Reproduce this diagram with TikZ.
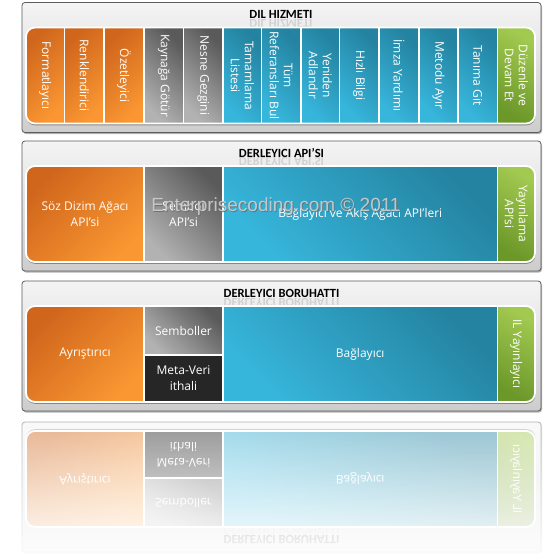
\documentclass[tikz,border=0pt]{standalone}
\usepackage{fontspec}
\setmainfont{Open Sans}
\newfontfamily\titlefont{Carlito}
\newfontfamily\wmfont{Liberation Sans}
\usetikzlibrary{fadings,shadows}
\definecolor{orA}{HTML}{D0661C}
\definecolor{orB}{HTML}{FA9732}
\definecolor{grA}{HTML}{5A5A5A}
\definecolor{grB}{HTML}{B2B2B2}
\definecolor{blA}{HTML}{2483A0}
\definecolor{blB}{HTML}{37B6DC}
\definecolor{gnA}{HTML}{A2C950}
\definecolor{gnB}{HTML}{6C982A}
\definecolor{mdark}{HTML}{262626}
\definecolor{panA}{HTML}{F4F4F4}
\definecolor{panB}{HTML}{CDCDCD}
\definecolor{panLine}{HTML}{5C5C5C}
\definecolor{wmLight}{HTML}{CFCFCF}
\definecolor{wmDark}{HTML}{6A6A6A}
\tikzfading[name=reflfade, top color=transparent!50, bottom color=transparent!4]
\tikzset{
  panel/.style={draw=panLine, line width=0.8pt, rounded corners=3pt, top color=panA, bottom color=panB,
    minimum width=519pt, minimum height=130pt, inner sep=0pt,
    drop shadow={shadow xshift=1pt, shadow yshift=-1.5pt, opacity=0.3, fill=black}},
  ptitle/.style={font=\titlefont\bfseries\fontsize{12.5}{14}\selectfont, text=black, inner sep=0pt},
  ptitleref/.style={ptitle, yscale=-1, opacity=0.12},
  cell/.style={draw=white, line width=1.8pt, inner sep=0pt},
  orcell/.style={cell, top color=orA, bottom color=orB, shading angle=45},
  grcell/.style={cell, top color=grA, bottom color=grB, shading angle=-45},
  blcell/.style={cell, top color=blA, bottom color=blB, shading angle=-45},
  gncell/.style={cell, top color=gnA, bottom color=gnB, shading angle=-30},
  dkcell/.style={cell, fill=mdark},
  lbl/.style={text=white, align=center, inner sep=0pt, font=\fontsize{12}{16}\selectfont},
  vlbl/.style={lbl, rotate=-90, font=\fontsize{12}{14}\selectfont},
  frame/.style={draw=white, line width=1.8pt, rounded corners=9pt},
  frameshadow/.style={fill=black, opacity=0.35, rounded corners=9pt},
}
\newcommand\pipelinepanel[1]{%
  \node[panel] (#1p) at (281.5,346) {};
  \node[ptitle] (#1t) at (281.5,293) {DERLEYICI BORUHATTI};
  \node[ptitleref] (#1tr) at (281.5,302.5) {DERLEYICI BORUHATTI};
  \fill[frameshadow] (26,307.5) rectangle (535.5,403.8);
  \begin{scope}
    \clip[rounded corners=9pt] (26,306) rectangle (535,402);
    \node[orcell, minimum width=118pt, minimum height=96pt] (#1a) at (85,354) {};
    \node[grcell, minimum width=79pt, minimum height=49pt] (#1b) at (183.5,330.5) {};
    \node[dkcell, minimum width=79pt, minimum height=47pt] (#1c) at (183.5,378.5) {};
    \node[blcell, minimum width=274.5pt, minimum height=96pt] (#1d) at (360.25,354) {};
    \node[gncell, minimum width=37.5pt, minimum height=96pt] (#1e) at (516.25,354) {};
    \node[lbl] (#1at) at (#1a) {Ayrıştırıcı};
    \node[lbl] (#1bt) at (#1b) {Semboller};
    \node[lbl] (#1ct) at (#1c) {Meta-Veri\\ithali};
    \node[lbl] (#1dt) at (#1d) {Bağlayıcı};
    \node[vlbl] (#1et) at (#1e) {IL Yayınlayıcı};
  \end{scope}
  \draw[frame] (26,306) rectangle (535,402);
}
\begin{document}
\begin{tikzpicture}[x=1pt,y=-1pt]
\useasboundingbox (0,0) rectangle (555,554);
\fill[white] (0,0) rectangle (555,554);

% ---------- Panel 1: DIL HIZMETI ----------
\node[panel] (p1) at (281.5,67.5) {};
\node[ptitle] (t1) at (281,14.5) {DIL HIZMETI};
\node[ptitleref] (t1r) at (281,24) {DIL HIZMETI};
\fill[frameshadow] (26,29) rectangle (535.5,125.3);
\begin{scope}
  \clip[rounded corners=9pt] (26,27.5) rectangle (535,123.5);
  \node[orcell, minimum width=38.5pt, minimum height=96pt] (c1) at (45.25,75.5) {};
  \node[orcell, minimum width=39.5pt, minimum height=96pt] (c2) at (84.25,75.5) {};
  \node[orcell, minimum width=40pt, minimum height=96pt] (c3) at (124,75.5) {};
  \node[grcell, minimum width=39.5pt, minimum height=96pt] (c4) at (163.75,75.5) {};
  \node[grcell, minimum width=39.5pt, minimum height=96pt] (c5) at (203.25,75.5) {};
  \node[blcell, minimum width=38.5pt, minimum height=96pt] (c6) at (242.25,75.5) {};
  \node[blcell, minimum width=39.5pt, minimum height=96pt] (c7) at (281.25,75.5) {};
  \node[blcell, minimum width=38.5pt, minimum height=96pt] (c8) at (320.25,75.5) {};
  \node[blcell, minimum width=39.5pt, minimum height=96pt] (c9) at (359.25,75.5) {};
  \node[blcell, minimum width=40pt, minimum height=96pt] (c10) at (399,75.5) {};
  \node[blcell, minimum width=39pt, minimum height=96pt] (c11) at (438.5,75.5) {};
  \node[blcell, minimum width=39.5pt, minimum height=96pt] (c12) at (477.75,75.5) {};
  \node[gncell, minimum width=37.5pt, minimum height=96pt] (c13) at (516.25,75.5) {};
  \node[vlbl] (c1t) at (c1) {Formatlayıcı};
  \node[vlbl] (c2t) at (c2) {Renklendirici};
  \node[vlbl] (c3t) at (c3) {Özetleyici};
  \node[vlbl] (c4t) at (c4) {Kaynağa Götür};
  \node[vlbl] (c5t) at (c5) {Nesne Gezgini};
  \node[vlbl] (c6t) at (c6) {Tamamlama\\Listesi};
  \node[vlbl] (c7t) at (c7) {Tüm\\Referansları Bul};
  \node[vlbl] (c8t) at (c8) {Yeniden\\Adlandır};
  \node[vlbl] (c9t) at (c9) {Hızlı Bilgi};
  \node[vlbl] (c10t) at (c10) {İmza Yardımı};
  \node[vlbl] (c11t) at (c11) {Metodu Ayır};
  \node[vlbl] (c12t) at (c12) {Tanıma Git};
  \node[vlbl] (c13t) at (c13) {Düzenle ve\\Devam Et};
\end{scope}
\draw[frame] (26,27.5) rectangle (535,123.5);

% ---------- Panel 2: DERLEYICI API'SI ----------
\node[panel] (p2) at (281.5,206) {};
\node[ptitle] (t2) at (281.5,153) {DERLEYICI API’SI};
\node[ptitleref] (t2r) at (281.5,162.5) {DERLEYICI API’SI};
\fill[frameshadow] (26,167.5) rectangle (535.5,263.8);
\begin{scope}
  \clip[rounded corners=9pt] (26,166) rectangle (535,262);
  \node[orcell, minimum width=118pt, minimum height=96pt] (d1) at (85,214) {};
  \node[grcell, minimum width=79pt, minimum height=96pt] (d2) at (183.5,214) {};
  \node[blcell, minimum width=274.5pt, minimum height=96pt] (d3) at (360.25,214) {};
  \node[gncell, minimum width=37.5pt, minimum height=96pt] (d4) at (516.25,214) {};
  \node[lbl] (d1t) at (d1) {Söz Dizim Ağacı\\API’si};
  \node[lbl] (d2t) at (d2) {Sembol\\API’si};
  \node[lbl] (d3t) at (d3) {Bağlayıcı ve Akış Ağacı API’leri};
  \node[vlbl] (d4t) at (d4) {Yayınlama\\API’si};
\end{scope}
\draw[frame] (26,166) rectangle (535,262);

% ---------- Panel 3: DERLEYICI BORUHATTI ----------
\pipelinepanel{q}

% ---------- Reflection ----------
\begin{scope}[cm={1,0,0,-1,(0pt,-833pt)}, transform shape]
  \pipelinepanel{r}
\end{scope}
\fill[white, path fading=reflfade] (0,416) rectangle (555,554);

% ---------- Watermark ----------
\node[font=\wmfont\fontsize{19}{22}\selectfont, text=wmDark, opacity=0.8, inner sep=0pt] (wms) at (276.8,207.8) {Enterprisecoding.com © 2011};
\node[font=\wmfont\fontsize{19}{22}\selectfont, text=wmLight, opacity=0.9, inner sep=0pt] (wm) at (276,207) {Enterprisecoding.com © 2011};
\end{tikzpicture}
\end{document}
